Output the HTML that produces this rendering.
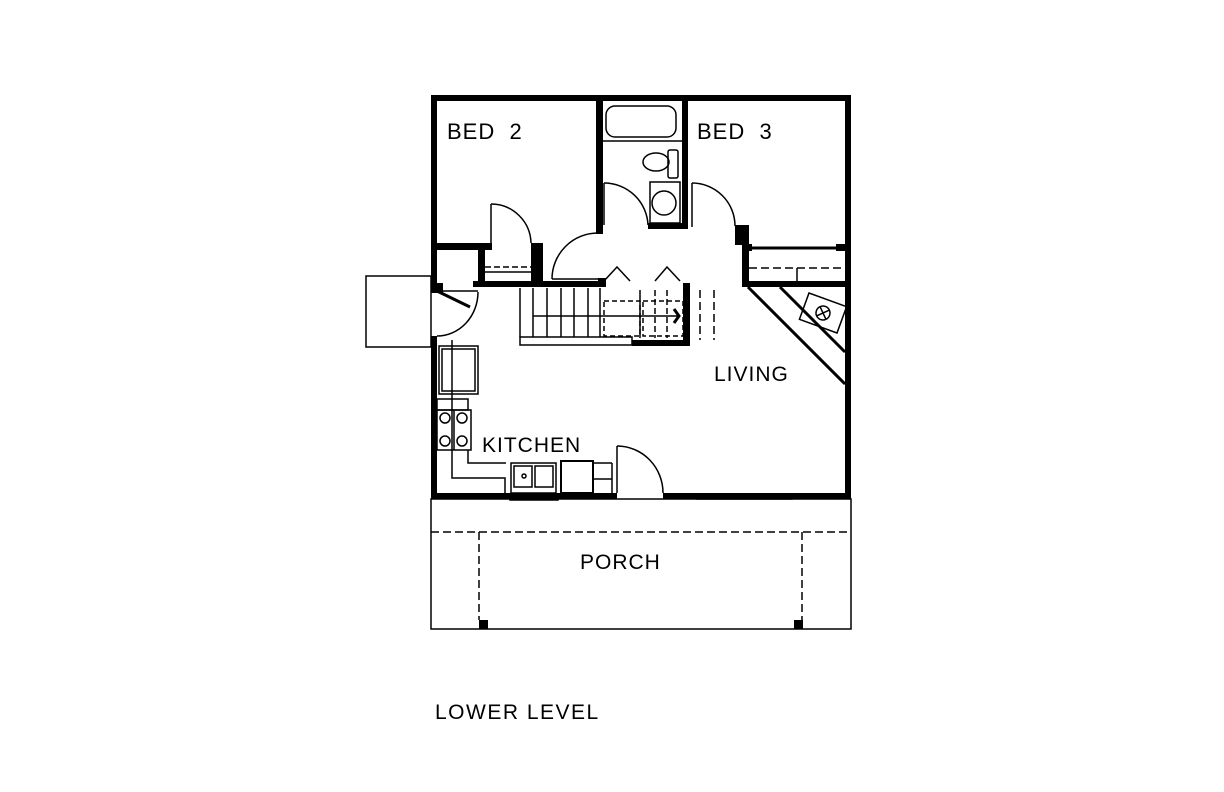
<!DOCTYPE html>
<html><head><meta charset="utf-8"><style>
html,body{margin:0;padding:0;background:#fff}
svg{display:block}
text{font-family:"Liberation Sans",sans-serif;font-size:21px;fill:#000;letter-spacing:1px}
</style></head><body>
<svg width="1224" height="792" viewBox="0 0 1224 792" xmlns="http://www.w3.org/2000/svg">
<g fill="#000" stroke="none">
<rect x="431" y="95" width="420" height="6"/>
<rect x="431" y="95" width="6" height="198"/>
<rect x="431" y="336" width="6" height="163"/>
<rect x="845" y="95" width="6" height="404"/>
<rect x="431" y="493" width="186" height="6"/>
<rect x="663" y="493" width="188" height="6"/>
<rect x="596" y="101" width="7" height="133"/>
<rect x="437" y="243" width="55" height="7"/>
<rect x="531" y="243" width="12" height="44"/>
<rect x="478" y="250" width="7" height="37"/>
<rect x="473" y="281" width="130" height="6"/>
<rect x="431" y="283" width="12" height="10"/>
<rect x="682" y="101" width="6" height="127"/>
<rect x="648" y="223" width="40" height="6"/>
<rect x="735" y="225" width="12" height="20"/>
<rect x="742" y="225" width="7" height="62"/>
<rect x="742" y="281" width="103" height="6"/>
<rect x="742" y="244" width="10" height="7"/>
<rect x="836" y="244" width="10" height="7"/>
<rect x="683" y="283" width="7" height="63"/>
<rect x="632" y="340" width="58" height="6"/>
<rect x="598" y="278" width="8" height="9"/>
<rect x="479" y="620" width="9" height="9"/>
<rect x="794" y="620" width="9" height="9"/>
</g>
<g fill="none" stroke="#000" stroke-width="1.5">
<line x1="443" y1="97" x2="492" y2="97"/><line x1="443" y1="99" x2="492" y2="99"/>
<line x1="614" y1="97" x2="665" y2="97"/><line x1="614" y1="99" x2="665" y2="99"/>
<line x1="793" y1="97" x2="840" y2="97"/><line x1="793" y1="99" x2="840" y2="99"/>
<rect x="510" y="495" width="48" height="5"/>
<rect x="697" y="494" width="95" height="5"/><line x1="745" y1="494" x2="745" y2="499"/>
<line x1="491" y1="204" x2="491" y2="243"/>
<path d="M491,204 A40,40 0 0 1 531,243"/>
<line x1="485" y1="267" x2="531" y2="267" stroke-dasharray="6,3"/>
<line x1="485" y1="272" x2="531" y2="272"/>
<line x1="552" y1="279" x2="598" y2="279"/>
<path d="M552,279 A46,46 0 0 1 598,233"/>
<rect x="366" y="276" width="65" height="71"/>
<line x1="437" y1="291" x2="470" y2="307" stroke-width="3"/>
<line x1="437" y1="291" x2="478" y2="291"/>
<path d="M478,292 A41,44 0 0 1 437,336"/>
<rect x="606" y="106" width="70" height="31" rx="9"/>
<line x1="603" y1="141" x2="682" y2="141"/>
<ellipse cx="656" cy="162" rx="13" ry="9"/>
<rect x="668" y="150" width="10" height="28" rx="2"/>
<rect x="650" y="182" width="30" height="41"/>
<circle cx="664" cy="203" r="12"/>
<line x1="604" y1="183" x2="604" y2="225"/>
<path d="M604,183 A44,44 0 0 1 648,225"/>
<line x1="692" y1="183" x2="692" y2="227"/>
<path d="M692,183 A43,43 0 0 1 735,226"/>
<line x1="749" y1="248" x2="845" y2="248" stroke-width="3"/>
<line x1="749" y1="268" x2="845" y2="268" stroke-dasharray="8,4"/>
<line x1="797" y1="268" x2="797" y2="281"/>
<line x1="748" y1="287" x2="845" y2="384" stroke-width="3"/>
<line x1="780" y1="287" x2="845" y2="352" stroke-width="3"/>
<g transform="translate(823,313) rotate(20)">
<rect x="-20" y="-14" width="40" height="28"/>
<circle cx="0" cy="0" r="7"/>
<line x1="-5" y1="-5" x2="5" y2="5"/><line x1="-5" y1="5" x2="5" y2="-5"/>
</g>
<g>
<line x1="520" y1="288" x2="520" y2="337"/>
<line x1="533" y1="288" x2="533" y2="337"/>
<line x1="547" y1="288" x2="547" y2="337"/>
<line x1="561" y1="288" x2="561" y2="337"/>
<line x1="574" y1="288" x2="574" y2="337"/>
<line x1="588" y1="288" x2="588" y2="337"/>
<line x1="600" y1="288" x2="600" y2="337"/>
<line x1="533" y1="316" x2="679" y2="316"/>
<rect x="520" y="337" width="112" height="8"/>
<rect x="604" y="301" width="36" height="35" stroke-dasharray="5,3"/>
<rect x="643" y="301" width="40" height="35" stroke-dasharray="5,3"/>
<line x1="640" y1="290" x2="640" y2="338"/>
<line x1="655" y1="290" x2="655" y2="338" stroke-dasharray="6,3"/>
<line x1="667" y1="290" x2="667" y2="338" stroke-dasharray="6,3"/>
<polyline points="604,281 617,267 630,281"/>
<polyline points="655,281 667,267 680,281"/>
<polyline points="674,309 679,316 674,323" stroke-width="3"/>
<line x1="700" y1="290" x2="700" y2="340" stroke-dasharray="8,4"/>
<line x1="714" y1="290" x2="714" y2="340" stroke-dasharray="8,4"/>
</g>
<rect x="439" y="346" width="39" height="48"/>
<rect x="442" y="349" width="33" height="42"/>
<polyline points="452,340 452,478 505,478 505,493"/>
<rect x="437" y="399" width="31" height="11"/>
<rect x="437" y="410" width="34" height="40"/>
<line x1="454" y1="410" x2="454" y2="450"/>
<circle cx="445" cy="418" r="5"/><circle cx="462" cy="418" r="5"/>
<circle cx="445" cy="441" r="5"/><circle cx="462" cy="441" r="5"/>
<polyline points="468,450 468,463 506,463"/>
<rect x="511" y="463" width="45" height="30"/>
<rect x="514" y="466" width="18" height="21"/>
<rect x="535" y="466" width="18" height="21"/>
<circle cx="524" cy="476" r="2"/>
<rect x="561" y="461" width="32" height="32" stroke-width="2"/>
<line x1="593" y1="463" x2="612" y2="463"/>
<line x1="593" y1="479" x2="612" y2="479"/>
<line x1="612" y1="463" x2="612" y2="493"/>
<line x1="617" y1="446" x2="617" y2="493"/>
<path d="M617,446 A46,47 0 0 1 663,493"/>
<rect x="431" y="499" width="420" height="130"/>
<line x1="431" y1="532" x2="851" y2="532" stroke-dasharray="8,4"/>
<line x1="479" y1="532" x2="479" y2="620" stroke-dasharray="8,4"/>
<line x1="802" y1="532" x2="802" y2="620" stroke-dasharray="8,4"/>
</g>
<text x="447" y="139" style="font-size:22px" xml:space="preserve">BED  2</text>
<text x="697" y="139" style="font-size:22px" xml:space="preserve">BED  3</text>
<text x="714" y="381">LIVING</text>
<text x="482" y="452">KITCHEN</text>
<text x="580" y="569">PORCH</text>
<text x="435" y="719" style="letter-spacing:1.5px">LOWER LEVEL</text>
</svg>
</body></html>
